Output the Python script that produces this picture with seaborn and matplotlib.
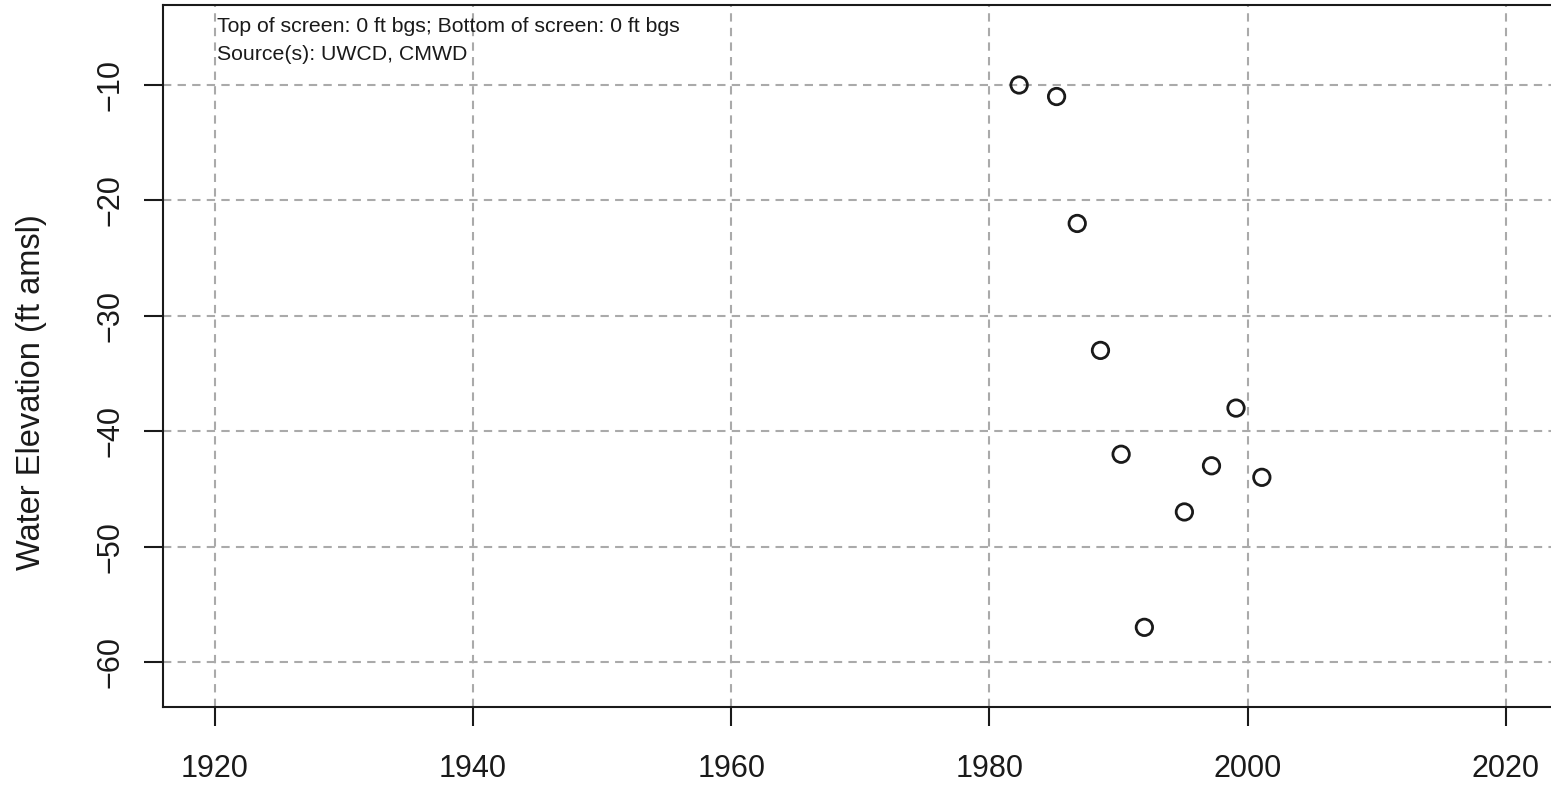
import numpy as np
import pandas as pd
import matplotlib
matplotlib.use("Agg")
import matplotlib.pyplot as plt
import seaborn as sns

# Water level readings (decimal year, ft amsl)
years = [1982.3, 1985.2, 1986.8, 1988.6, 1990.2, 1992.0, 1995.1, 1997.2, 1999.1, 2001.1]
elev = [-10, -11, -22, -33, -42, -57, -47, -43, -38, -44]
x_ticks = [1920, 1940, 1960, 1980, 2000, 2020]
y_ticks = [-60, -50, -40, -30, -20, -10]
note_lines = ["Top of screen: 0 ft bgs; Bottom of screen: 0 ft bgs", "Source(s): UWCD, CMWD"]

df = pd.DataFrame({"Year": years, "Elevation": elev})

sns.set_style("white")
plt.rcParams['font.family'] = ['Liberation Sans', 'DejaVu Sans']

fig = plt.figure(figsize=(15.51, 7.85), dpi=100)
# right spine sits just past the image edge, like the reference
ax = fig.add_axes([0.105, 0.0994, 0.905, 0.8942])

sns.scatterplot(data=df, x="Year", y="Elevation", ax=ax, s=140, marker="o",
                facecolor="none", edgecolor="#1a1a1a", linewidth=2, zorder=3)

ax.set_xlim(1915.97, 2024.7)
ax.set_ylim(-63.9, -3.07)
ax.set_xticks(x_ticks)
ax.set_yticks(y_ticks)
ax.set_yticklabels([f"\u2212{abs(v)}" for v in y_ticks], rotation=90, va="center")
ax.grid(True, color="#aaaaaa", linestyle=(0, (4, 3)), linewidth=1.5)
ax.set_axisbelow(True)

for sp in ax.spines.values():
    sp.set_color("#1a1a1a")
    sp.set_linewidth(1.5)

ax.tick_params(axis="both", direction="out", length=14, width=1.5, color="#1a1a1a",
               labelsize=22, labelcolor="#1a1a1a", left=True, bottom=True)
ax.tick_params(axis="x", pad=20)
ax.tick_params(axis="y", pad=13)
ax.set_xlabel("")
ax.set_ylabel("")
fig.text(32 / 1551, 0.5, "Water Elevation (ft amsl)", rotation=90, fontsize=23.5,
         color="#1a1a1a", ha="center", va="center")

ax.text(1920.15, 0.9615, note_lines[0], transform=ax.get_xaxis_transform(),
        fontsize=15.3, va="baseline", ha="left", color="#1a1a1a")
ax.text(1920.15, 0.9217, note_lines[1], transform=ax.get_xaxis_transform(),
        fontsize=15.3, va="baseline", ha="left", color="#1a1a1a")

fig.savefig("out.png", dpi=100)
